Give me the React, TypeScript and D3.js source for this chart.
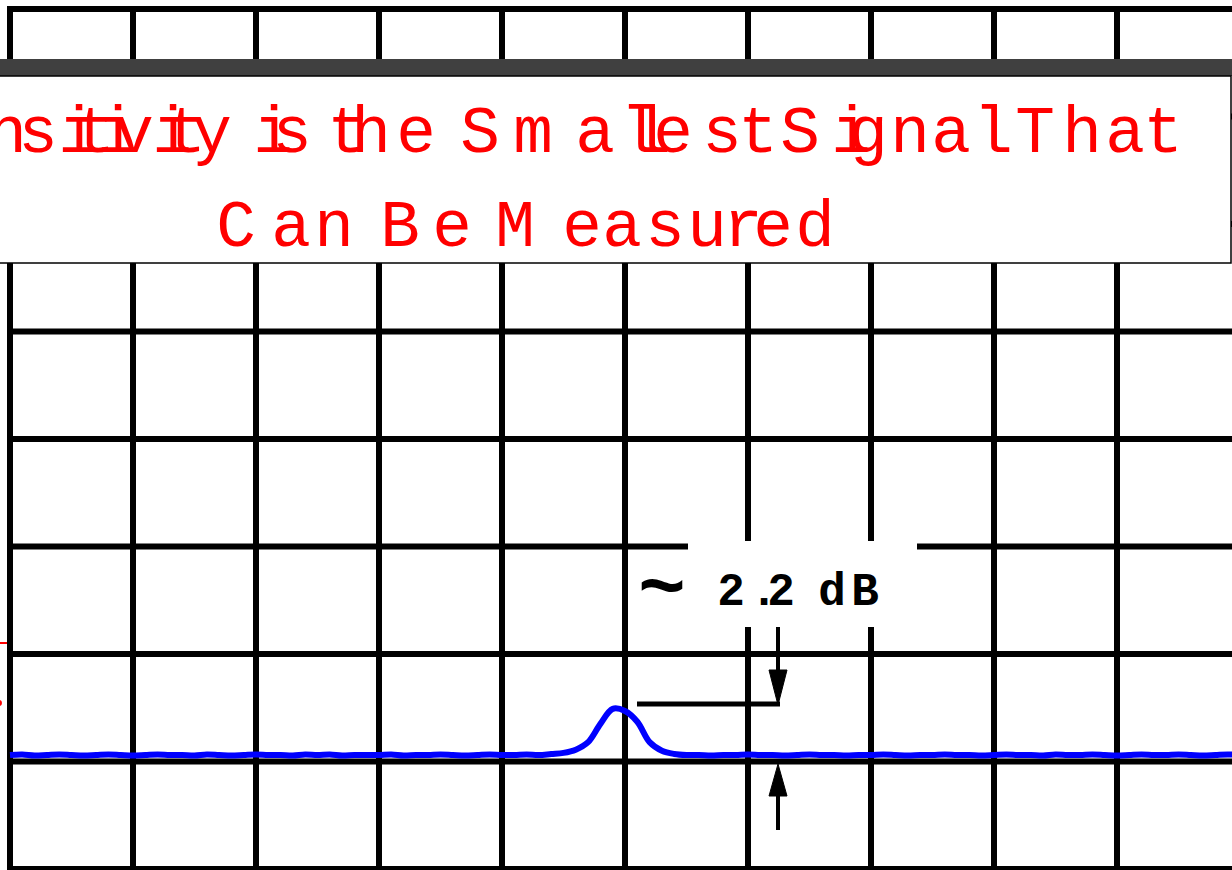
import React from "react";
import * as d3 from "d3";

// ---- data ----
const gridCols = d3.range(0, 11); // 10 horizontal divisions
const gridRows = d3.range(0, 9); // 8 vertical divisions (10 dB/div)

// trace amplitude (dB) sampled every 0.1 division from 0 to 10
const traceDb = [
  -69.4, -69.35, -69.45, -69.4, -69.35, -69.4, -69.45, -69.4, -69.35, -69.4,
  -69.45, -69.4, -69.35, -69.4, -69.4, -69.45, -69.35, -69.4, -69.45, -69.4,
  -69.35, -69.4, -69.4, -69.45, -69.35, -69.4, -69.35, -69.45, -69.4, -69.4,
  -69.4, -69.35, -69.45, -69.4, -69.4, -69.35, -69.4, -69.45, -69.4, -69.35,
  -69.4, -69.4, -69.35, -69.4, -69.3, -69.2, -68.9, -68.2, -66.5, -65.1,
  -65.3, -66.3, -68.2, -69.0, -69.3, -69.4, -69.4, -69.45, -69.4, -69.4,
  -69.35, -69.4, -69.4, -69.45, -69.4, -69.35, -69.4, -69.4, -69.45, -69.4,
  -69.4, -69.35, -69.4, -69.45, -69.4, -69.4, -69.35, -69.4, -69.4, -69.45,
  -69.4, -69.35, -69.4, -69.4, -69.45, -69.35, -69.4, -69.4, -69.35, -69.4,
  -69.45, -69.4, -69.35, -69.4, -69.4, -69.35, -69.4, -69.45, -69.4, -69.35, -69.4,
];
const traceStep = 0.1;

const titleLine1 = "Sensitivity is the Smallest Signal That";
const titleLine2 = "Can Be Measured";
const annotationText = ["~", "2", ".", "2", "d", "B"];

// ---- layout (character centres, px) ----
const line1X = [
  -95, -55, 7, 38, 78, 95, 117, 134, 172, 186, 212, null,
  273, 292, null, 347, 371, 416, null,
  480, 533, 595, 640, 651, 673, 722, 758, null,
  800, 851, 868, 910, 951, 993, null, 1035, 1082, 1125, 1163,
];
const line2X = [236, 291, 334, null, 400, 452, null, 515, 582, 622, 665, 707, 743, 773, 815];
const annX = [662, 731, 764, 781, 832, 865];

export default function App() {
  const W = 1232;
  const H = 870;
  const x = d3.scaleLinear().domain([0, 10]).range([10, 1240]);
  const y = d3.scaleLinear().domain([0, -80]).range([9, 869]);

  const line = d3
    .line<number>()
    .x((_, i) => x(i * traceStep))
    .y((d) => y(d))
    .curve(d3.curveCatmullRom);

  const chars = (s: string, xs: (number | null)[]) =>
    s.split("").map((c, i) => ({ c, x: xs[i] })).filter((d) => d.c !== " " && d.x != null);

  const l1 = chars(titleLine1, line1X);
  const l2 = chars(titleLine2, line2X);

  const arrowX = 778;
  const mono = "'Liberation Mono', 'DejaVu Sans Mono', monospace";

  return (
    <svg
      width={W}
      height={H}
      style={{ position: "absolute", left: 0, top: 0, background: "#fff" }}
    >
      {/* grid */}
      <g stroke="#000" strokeWidth={6}>
        {gridCols.map((c) => (
          <line key={"v" + c} x1={x(c)} x2={x(c)} y1={y(0) - 3} y2={y(-80) + 3} />
        ))}
        {gridRows.map((r) => (
          <line key={"h" + r} x1={x(0) - 3} x2={x(10) + 3} y1={y(-r * 10)} y2={y(-r * 10)} />
        ))}
      </g>

      {/* clipped labels at left edge */}
      <line x1={0} x2={7} y1={643} y2={643} stroke="#f00" strokeWidth={2} />
      <circle cx={-1} cy={703} r={3} fill="#f00" />

      {/* trace */}
      <path d={line(traceDb) || ""} fill="none" stroke="#0000ff" strokeWidth={6} strokeLinejoin="round" />

      {/* annotation background */}
      <rect x={688} y={541} width={229} height={86} fill="#fff" />
      <text fontFamily={mono} fontWeight="bold" fontSize={46} fill="#000" textAnchor="middle">
        {annotationText.map((c, i) => (
          <tspan key={i} x={annX[i]} y={c === "~" ? 612 : 605} fontSize={c === "~" ? 80 : 46}>
            {c}
          </tspan>
        ))}
      </text>

      {/* arrows */}
      <g stroke="#000" strokeWidth={5} fill="#000">
        <line x1={637} x2={arrowX + 2} y1={704} y2={704} />
        <line x1={arrowX} x2={arrowX} y1={627} y2={680} strokeWidth={4} />
        <path d={`M${arrowX - 9},${670} L${arrowX + 9},${670} L${arrowX},${705} Z`} strokeWidth={1} />
        <line x1={arrowX} x2={arrowX} y1={785} y2={830} strokeWidth={4} />
        <path d={`M${arrowX - 9},${796} L${arrowX + 9},${796} L${arrowX},${764} Z`} strokeWidth={1} />
      </g>

      {/* title box */}
      <rect x={0} y={59} width={W} height={17} fill="#404040" />
      <rect x={-200} y={76} width={1431} height={187} fill="#fff" stroke="#000" strokeWidth={1.5} />
      <text fontFamily={mono} fontSize={66} fill="#ff0000" textAnchor="middle">
        {l1.map((d, i) => (
          <tspan key={i} x={d.x as number} y={152}>
            {d.c}
          </tspan>
        ))}
      </text>
      <text fontFamily={mono} fontSize={66} fill="#ff0000" textAnchor="middle">
        {l2.map((d, i) => (
          <tspan key={i} x={d.x as number} y={246}>
            {d.c}
          </tspan>
        ))}
      </text>
    </svg>
  );
}
